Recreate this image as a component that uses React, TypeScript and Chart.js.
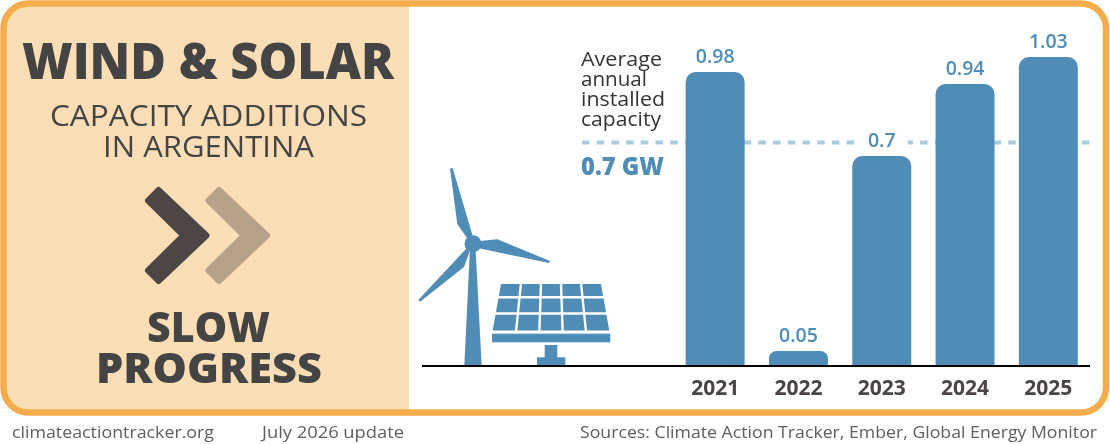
import { useEffect, useRef } from "react";
import { Chart, registerables } from "chart.js";

Chart.register(...registerables);

const years = ["2021", "2022", "2023", "2024", "2025"];
const additions = [0.98, 0.05, 0.7, 0.94, 1.03];
const additionLabels = ["0.98", "0.05", "0.7", "0.94", "1.03"];
const averageLine = 0.745;
const noteLines = ["Average", "annual", "installed", "capacity"];

const BLUE = "#4f8db6";
const DARK = "#444444";
const FONT = '"Open Sans", sans-serif';

function text(
  ctx: CanvasRenderingContext2D,
  str: string,
  left: number,
  right: number,
  baseline: number,
  font: string,
  color: string
) {
  // stretch the string horizontally so it spans left..right
  ctx.save();
  ctx.font = font;
  ctx.fillStyle = color;
  ctx.textAlign = "left";
  ctx.textBaseline = "alphabetic";
  const w = ctx.measureText(str).width;
  ctx.translate(left, baseline);
  ctx.scale((right - left) / w, 1);
  ctx.fillText(str, 0, 0);
  ctx.restore();
}

function poly(ctx: CanvasRenderingContext2D, pts: number[][]) {
  ctx.beginPath();
  pts.forEach((p, i) => (i ? ctx.lineTo(p[0], p[1]) : ctx.moveTo(p[0], p[1])));
  ctx.closePath();
}

function chevron(ctx: CanvasRenderingContext2D, dx: number, color: string) {
  ctx.save();
  ctx.translate(dx, 0);
  ctx.fillStyle = color;
  ctx.strokeStyle = color;
  ctx.lineWidth = 6;
  ctx.lineJoin = "round";
  poly(ctx, [
    [158.5, 190],
    [206.5, 235.5],
    [158.5, 281],
    [148, 270.5],
    [183.5, 235.5],
    [148, 200.5],
  ]);
  ctx.fill();
  ctx.stroke();
  ctx.restore();
}

function turbine(ctx: CanvasRenderingContext2D) {
  ctx.fillStyle = BLUE;
  poly(ctx, [[470, 248], [475.5, 248], [481.7, 366], [464.3, 366]]);
  ctx.fill();
  ctx.beginPath();
  ctx.arc(473, 243.7, 8.5, 0, Math.PI * 2);
  ctx.fill();
  poly(ctx, [[450, 168.5], [452.7, 168.3], [472.7, 236], [467, 238], [457.3, 224]]);
  ctx.fill();
  poly(ctx, [[480, 241], [497.3, 239.3], [550, 261], [549, 263], [480, 248.5]]);
  ctx.fill();
  poly(ctx, [[418.3, 300], [466.7, 248.3], [469.5, 252], [464, 267], [420, 301.7]]);
  ctx.fill();
}

function solarPanel(ctx: CanvasRenderingContext2D) {
  const topY = 284;
  const botY = 330.5;
  const topL = 501;
  const topR = 601;
  const botL = 492.7;
  const botR = 609.3;
  ctx.fillStyle = BLUE;
  poly(ctx, [[topL, topY], [topR, topY], [botR, botY], [botL, botY]]);
  ctx.fill();
  ctx.strokeStyle = "#ffffff";
  ctx.lineWidth = 2.4;
  for (let i = 1; i < 5; i++) {
    ctx.beginPath();
    ctx.moveTo(topL + ((topR - topL) * i) / 5, topY - 1);
    ctx.lineTo(botL + ((botR - botL) * i) / 5, botY + 1);
    ctx.stroke();
  }
  [297.3, 313.5].forEach((y) => {
    ctx.beginPath();
    ctx.moveTo(botL - 2, y);
    ctx.lineTo(botR + 2, y);
    ctx.stroke();
  });
  ctx.fillStyle = BLUE;
  ctx.fillRect(492, 333.7, 118.3, 8.6);
  ctx.fillRect(544.7, 345, 12.6, 13);
  ctx.fillRect(537, 357.3, 28.3, 9);
}

const backdrop = {
  id: "backdrop",
  beforeDraw(chart: Chart) {
    const ctx = chart.ctx;
    ctx.save();
    ctx.fillStyle = "#ffffff";
    ctx.fillRect(0, 0, 1110, 444);

    // peach panel, clipped by the rounded frame
    ctx.save();
    ctx.beginPath();
    ctx.roundRect(3.5, 3.5, 1102.5, 409, 25);
    ctx.clip();
    ctx.fillStyle = "#fbdeb5";
    ctx.fillRect(0, 0, 409, 420);
    ctx.restore();

    ctx.strokeStyle = "#f4ad4a";
    ctx.lineWidth = 6.5;
    ctx.beginPath();
    ctx.roundRect(3.5, 3.5, 1102.5, 409, 25);
    ctx.stroke();

    text(ctx, "WIND & SOLAR", 22, 394, 79, `800 50px ${FONT}`, DARK);
    text(ctx, "CAPACITY ADDITIONS", 50, 367, 126, `30px ${FONT}`, DARK);
    text(ctx, "IN ARGENTINA", 103, 314, 157, `30px ${FONT}`, DARK);
    chevron(ctx, 0, "#4d4645");
    chevron(ctx, 60.5, "#b5a288");
    text(ctx, "SLOW", 147, 270, 342, `800 42px ${FONT}`, DARK);
    text(ctx, "PROGRESS", 96, 322, 383, `800 42px ${FONT}`, DARK);

    const grey = "#5a5f62";
    text(ctx, "climateactiontracker.org", 12, 214, 438, `17px ${FONT}`, grey);
    text(ctx, "July 2026 update", 262, 404, 438, `17px ${FONT}`, grey);
    text(ctx, "Sources: Climate Action Tracker, Ember, Global Energy Monitor", 580, 1097, 438, `17px ${FONT}`, grey);

    turbine(ctx);
    solarPanel(ctx);

    const rights = [662, 647, 665, 661];
    noteLines.forEach((line, i) => {
      text(ctx, line, 581, rights[i], 66 + i * 20, `19.5px ${FONT}`, "#333333");
    });
    text(ctx, "0.7 GW", 581, 664, 174.5, `800 24px ${FONT}`, BLUE);
    ctx.restore();
  },
  beforeDatasetsDraw(chart: Chart) {
    const ctx = chart.ctx;
    const y = chart.scales.y.getPixelForValue(averageLine);
    ctx.save();
    ctx.strokeStyle = "#a9cbe0";
    ctx.lineWidth = 4;
    ctx.setLineDash([7.5, 7.2]);
    ctx.beginPath();
    ctx.moveTo(582, y);
    ctx.lineTo(1090, y);
    ctx.stroke();
    ctx.restore();
  },
  afterDatasetsDraw(chart: Chart) {
    const ctx = chart.ctx;
    const base = chart.scales.y.getPixelForValue(0);
    ctx.save();
    ctx.strokeStyle = "#000000";
    ctx.lineWidth = 2;
    ctx.beginPath();
    ctx.moveTo(422, base);
    ctx.lineTo(1090, base);
    ctx.stroke();

    ctx.font = `600 19.5px ${FONT}`;
    ctx.textAlign = "center";
    ctx.textBaseline = "alphabetic";
    chart.getDatasetMeta(0).data.forEach((bar, i) => {
      // white box under the label breaks the dashed line where they meet
      ctx.fillStyle = "#ffffff";
      ctx.fillRect(bar.x - 26, bar.y - 26, 52, 20);
      ctx.fillStyle = BLUE;
      ctx.fillText(additionLabels[i], bar.x, bar.y - 9);
    });
    ctx.restore();
  },
};

export default function App() {
  const canvasRef = useRef<HTMLCanvasElement>(null);

  useEffect(() => {
    if (!canvasRef.current) return;
    const chart = new Chart(canvasRef.current, {
      type: "bar",
      data: {
        labels: years,
        datasets: [
          {
            data: additions,
            backgroundColor: BLUE,
            borderRadius: { topLeft: 10, topRight: 10, bottomLeft: 0, bottomRight: 0 },
            borderSkipped: false,
            barPercentage: 0.708,
            categoryPercentage: 1,
          },
        ],
      },
      options: {
        responsive: false,
        animation: false,
        layout: { padding: { left: 673.5, right: 20, top: 6, bottom: 0 } },
        plugins: { legend: { display: false }, tooltip: { enabled: false } },
        scales: {
          x: {
            grid: { display: false },
            border: { display: false },
            ticks: {
              color: "#4a4544",
              font: { family: FONT, size: 21, weight: "bold" },
              padding: 2,
              maxRotation: 0,
            },
            afterFit: (scale) => {
              scale.height = 78;
            },
          },
          y: { display: false, min: 0, max: 1.2 },
        },
      },
      plugins: [backdrop],
    });
    return () => chart.destroy();
  }, []);

  return (
    <div style={{ position: "absolute", left: 0, top: 0, width: 1110, height: 444 }}>
      <canvas ref={canvasRef} width={1110} height={444} />
    </div>
  );
}
